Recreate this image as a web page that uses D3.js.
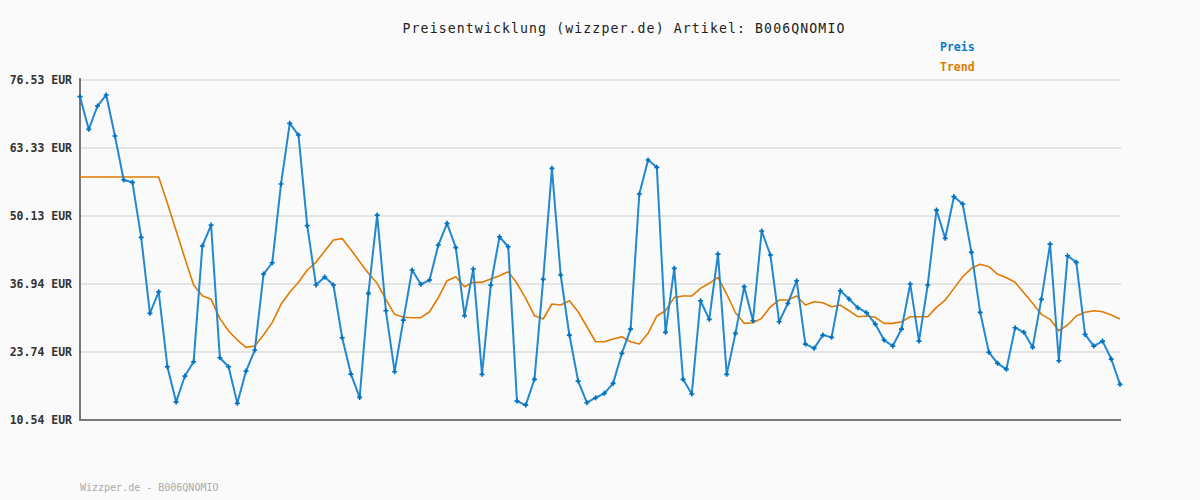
<!DOCTYPE html>
<html><head><meta charset="utf-8">
<script src="https://cdn.jsdelivr.net/npm/d3@7"></script>
<style>
html,body{margin:0;padding:0;background:#fafafa;}
svg{display:block;}
</style></head>
<body>
<svg id="chart" width="1200" height="500"></svg>
<script>
const yTicks = [10.54, 23.74, 36.94, 50.13, 63.33, 76.53];
const preis = [73.29,66.96,71.48,73.62,65.66,57.12,56.67,45.99,31.24,35.43,
20.88,14.02,19.07,21.85,44.31,48.38,22.62,20.88,13.77,20.04,
24.12,38.87,41.06,56.34,68.12,65.85,48.25,36.74,38.29,36.74,
26.51,19.46,14.93,35.12,50.32,31.75,19.91,29.94,39.65,36.87,
37.71,44.50,48.71,43.98,30.78,39.84,19.40,36.74,46.11,44.17,
14.22,13.44,18.43,37.84,59.39,38.68,27.03,18.10,13.89,14.86,
15.71,17.65,23.48,28.19,54.40,61.00,59.58,27.55,39.98,18.43,
15.58,33.69,30.08,42.75,19.40,27.36,36.41,29.81,47.22,42.56,
29.61,33.18,37.57,25.28,24.45,27.03,26.58,35.63,34.02,32.33,
31.36,29.16,26.06,24.89,28.19,36.93,25.86,36.74,51.29,45.80,
53.88,52.46,43.08,31.44,23.67,21.54,20.37,28.45,27.55,24.64,
33.96,44.69,22.04,42.42,41.14,27.16,24.89,25.86,22.37,17.46];
const trend = [57.70,57.70,57.70,57.70,57.70,57.70,57.70,57.70,57.70,57.70,
52.59,47.28,41.92,36.74,34.66,33.96,30.27,27.81,26.06,24.64,
24.89,27.03,29.49,32.99,35.32,37.26,39.65,41.14,43.34,45.47,
45.75,43.60,41.26,39.01,37.07,33.96,31.05,30.47,30.40,30.40,
31.55,34.27,37.57,38.35,36.41,37.26,37.26,37.90,38.54,39.32,
37.07,34.15,30.78,30.14,33.05,32.85,33.69,31.55,28.64,25.73,
25.73,26.28,26.70,25.73,25.28,27.36,30.72,31.75,34.34,34.60,
34.60,36.09,37.07,38.23,34.99,31.36,29.30,29.42,30.27,32.52,
33.82,33.82,34.60,32.85,33.50,33.30,32.52,32.85,31.75,30.59,
30.72,30.47,29.30,29.30,29.61,30.59,30.59,30.59,32.40,33.82,
36.09,38.35,39.98,40.75,40.29,38.81,38.15,37.26,35.25,33.18,
31.05,30.08,27.87,28.97,30.72,31.44,31.75,31.55,30.91,30.14];
const titleText = "Preisentwicklung (wizzper.de) Artikel: B006QNOMIO";
const legendLabels = ["Preis", "Trend"];
const footerText = "Wizzper.de - B006QNOMIO";

const svg = d3.select("#chart");
const L = 80, R = 1120, T = 80, B = 420;
const x = d3.scaleLinear().domain([0, preis.length - 1]).range([L, R]);
const y = d3.scaleLinear().domain([10.54, 76.53]).range([B, T]);
const mono = "'DejaVu Sans Mono', 'Liberation Mono', monospace";

// grid
svg.append("g").selectAll("line").data(yTicks.slice(1)).join("line")
  .attr("x1", L).attr("x2", R + 1)
  .attr("y1", d => Math.round(y(d))).attr("y2", d => Math.round(y(d)))
  .attr("stroke", "#e4e4e4").attr("stroke-width", 2);

// y axis labels via d3 axis
const yAxis = d3.axisLeft(y).tickValues(yTicks).tickSize(0).tickPadding(8)
  .tickFormat(d => d.toFixed(2) + " EUR");
const ga = svg.append("g").attr("transform", `translate(${L},0)`).call(yAxis);
ga.select(".domain").remove();
ga.selectAll("text").attr("font-family", mono).attr("font-size", "11.5px")
  .attr("font-weight", "bold").attr("fill", "#333");

// axes lines
svg.append("line").attr("x1", L).attr("x2", L).attr("y1", T - 2).attr("y2", B + 1)
  .attr("stroke", "#777").attr("stroke-width", 2);
svg.append("line").attr("x1", L - 1).attr("x2", R + 1).attr("y1", B).attr("y2", B)
  .attr("stroke", "#777").attr("stroke-width", 2);

// trend
svg.append("path").datum(trend)
  .attr("d", d3.line().x((d, i) => x(i)).y(d => y(d)))
  .attr("fill", "none").attr("stroke", "#e07b00").attr("stroke-width", 1.6)
  .attr("stroke-linejoin", "round");

// preis
svg.append("path").datum(preis)
  .attr("d", d3.line().x((d, i) => x(i)).y(d => y(d)))
  .attr("fill", "none").attr("stroke", "#2288d0").attr("stroke-width", 2)
  .attr("stroke-linejoin", "round");

const sym = d3.symbol().type(d3.symbolCross).size(14);
svg.append("g").selectAll("path").data(preis).join("path")
  .attr("transform", (d, i) => `translate(${x(i)},${y(d)})`)
  .attr("d", sym).attr("fill", "#0070c0");

// title
svg.append("text").attr("x", 624).attr("y", 33).attr("text-anchor", "middle")
  .attr("font-family", mono).attr("font-size", "13.2px").attr("letter-spacing", "1.1px")
  .attr("fill", "#222").text(titleText);

// legend
const legColors = ["#0a78c8", "#e07b00"];
svg.append("g").selectAll("text").data(legendLabels).join("text")
  .attr("x", 940).attr("y", (d, i) => 51 + i * 20)
  .attr("font-family", mono).attr("font-size", "11.5px").attr("font-weight", "bold")
  .attr("fill", (d, i) => legColors[i]).text(d => d);

// footer
svg.append("text").attr("x", 80).attr("y", 491)
  .attr("font-family", mono).attr("font-size", "10px").attr("fill", "#aaa")
  .text(footerText);
</script>
</body></html>
